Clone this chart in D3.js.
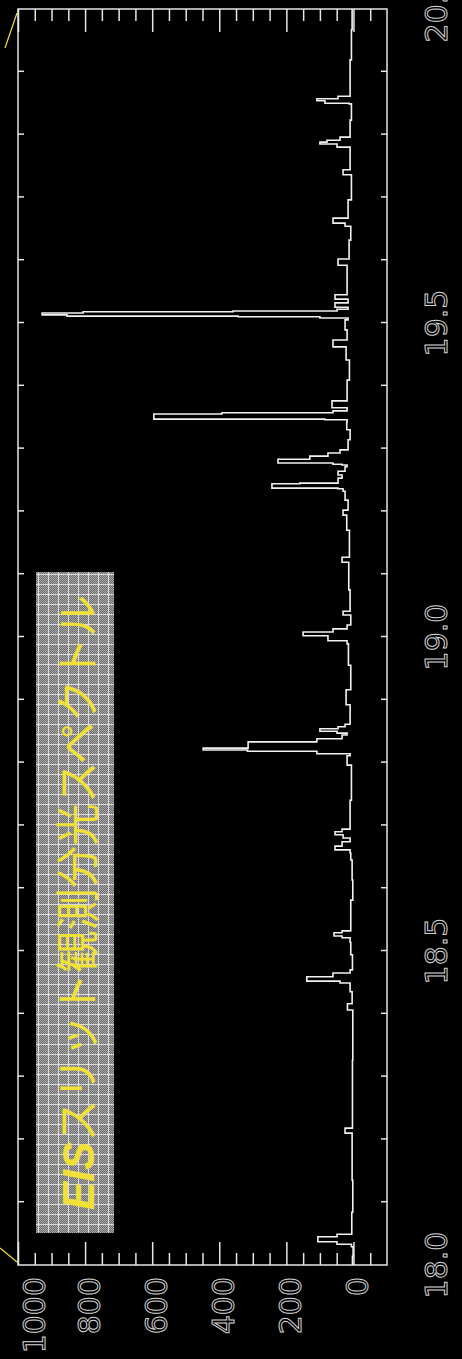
<!DOCTYPE html>
<html>
<head>
<meta charset="utf-8">
<script src="https://cdn.jsdelivr.net/npm/d3@7"></script>
<style>
  html, body { margin: 0; padding: 0; background: #000; overflow: hidden; }
  svg { display: block; }
</style>
</head>
<body>
<svg id="chart" width="462" height="1359"></svg>
<script>
// EIS slit spectrum (wavelength in nm, intensity in counts)
// values hold until the next wavelength (stepped trace)
const wavelength = [
  18.000, 18.014, 18.029, 18.033, 18.037, 18.045, 18.049, 18.084, 18.135, 18.210,
  18.218, 18.326, 18.406, 18.416, 18.435, 18.449, 18.452, 18.459, 18.465, 18.470,
  18.494, 18.514, 18.521, 18.524, 18.529, 18.532, 18.581, 18.613, 18.645, 18.656,
  18.661, 18.667, 18.674, 18.680, 18.685, 18.690, 18.694, 18.740, 18.796, 18.811,
  18.814, 18.818, 18.820, 18.823, 18.833, 18.838, 18.844, 18.847, 18.850, 18.854,
  18.857, 18.861, 18.892, 18.916, 18.955, 18.989, 18.994, 19.002, 19.008, 19.013,
  19.019, 19.035, 19.041, 19.075, 19.119, 19.127, 19.170, 19.194, 19.202, 19.218,
  19.232, 19.236, 19.237, 19.244, 19.245, 19.253, 19.258, 19.264, 19.271, 19.274,
  19.275, 19.277, 19.283, 19.288, 19.293, 19.298, 19.314, 19.330, 19.342, 19.346,
  19.347, 19.355, 19.357, 19.360, 19.365, 19.376, 19.409, 19.441, 19.462, 19.473,
  19.489, 19.505, 19.508, 19.510, 19.511, 19.513, 19.516, 19.518, 19.519, 19.522,
  19.525, 19.532, 19.538, 19.545, 19.592, 19.602, 19.632, 19.654, 19.659, 19.667,
  19.696, 19.736, 19.744, 19.780, 19.785, 19.788, 19.791, 19.796, 19.823, 19.849,
  19.850, 19.854, 19.857, 19.861, 19.919, 19.967, 20.000
];
const intensity = [
  3, 1, 6, 49, 106, 49, 5, 2, 4, 25,
  3, 2, 18, 4, 10, 40, 139, 61, 10, 3,
  8, 10, 34, 58, 34, 8, 2, 4, 8, 10,
  55, 34, 10, 31, 55, 34, 10, 6, 19, 10,
  109, 316, 448, 314, 109, 34, 19, 49, 100, 46,
  25, 10, 22, 8, 15, 19, 76, 150, 61, 19,
  8, 31, 10, 14, 34, 12, 20, 31, 16, 25,
  31, 46, 243, 160, 46, 34, 46, 25, 19, 34,
  61, 225, 130, 76, 40, 16, 10, 20, 19, 85,
  595, 392, 61, 19, 64, 19, 12, 22, 61, 19,
  25, 16, 100, 344, 854, 928, 806, 359, 49, 16,
  55, 16, 55, 19, 46, 13, 8, 25, 61, 16,
  6, 31, 10, 49, 100, 79, 40, 10, 6, 13,
  85, 109, 46, 10, 6, 4, 4
];

// axis ticks
const intensityMajor = [0, 200, 400, 600, 800, 1000];
const intensityMinor = [-50, 50, 100, 150, 250, 300, 350, 450, 500, 550, 650, 700, 750, 850, 900, 950];
const wavelengthTicks = [18.1, 18.2, 18.3, 18.4, 18.5, 18.6, 18.7, 18.8, 18.9, 19.0,
                         19.1, 19.2, 19.3, 19.4, 19.5, 19.6, 19.7, 19.8, 19.9];
const wavelengthLabels = [18.0, 18.5, 19.0, 19.5, 20.0];

const titleLatin = "EIS";
const titleJa = "スリット観測分光スペクトル";

const svg = d3.select("#chart");
const ink = "#e6e6e6";
const yellow = "#f0e038";

// the plot is drawn unrotated, then turned a quarter turn
const W = 1256, H = 369;
const x = d3.scaleLinear().domain([18, 20]).range([0, W]);
const y = d3.scaleLinear().domain([-100, 1000]).range([H, 0]);

// patterns for the title box (dithered grey with a light grid)
const defs = svg.append("defs");
const dots = defs.append("pattern")
  .attr("id", "dots").attr("patternUnits", "userSpaceOnUse")
  .attr("width", 2).attr("height", 2);
dots.append("rect").attr("width", 2).attr("height", 2).attr("fill", "#6c6c6c");
dots.append("rect").attr("width", 1).attr("height", 1).attr("fill", "#a8a8a8");
dots.append("rect").attr("x", 1).attr("y", 1).attr("width", 1).attr("height", 1).attr("fill", "#a8a8a8");
const grid = defs.append("pattern")
  .attr("id", "grid").attr("patternUnits", "userSpaceOnUse")
  .attr("width", 10).attr("height", 10);
grid.append("rect").attr("width", 10).attr("height", 10).attr("fill", "url(#dots)");
grid.append("path").attr("d", "M0,0.5H10M0.5,0V10")
  .attr("stroke", "#dcdcdc").attr("stroke-width", 1);

const g = svg.append("g").attr("transform", "translate(18,1265) rotate(-90)");

// title box
g.append("rect")
  .attr("x", 32).attr("y", 18).attr("width", 661).attr("height", 78)
  .attr("fill", "url(#grid)");

const title = g.append("text")
  .attr("x", 55).attr("y", 76)
  .attr("fill", yellow)
  .attr("font-size", 44)
  .attr("textLength", 615)
  .attr("lengthAdjust", "spacingAndGlyphs");
title.append("tspan")
  .attr("font-family", "'Liberation Sans', Arial, sans-serif")
  .attr("font-weight", "bold").attr("font-style", "italic")
  .text(titleLatin);
title.append("tspan")
  .attr("font-family", "'Noto Sans CJK JP', sans-serif")
  .text(titleJa);

// frame
g.append("rect")
  .attr("x", 0).attr("y", 0).attr("width", W).attr("height", H)
  .attr("fill", "none").attr("stroke", ink).attr("stroke-width", 1.5);

function tickStyle(sel) {
  sel.select(".domain").remove();
  sel.selectAll("text").remove();
  sel.selectAll("line").attr("stroke", ink).attr("stroke-width", 1.5);
}

// intensity ticks on both wavelength ends, pointing inwards
g.append("g").call(d3.axisRight(y).tickValues(intensityMajor).tickSize(23)).call(tickStyle);
g.append("g").call(d3.axisRight(y).tickValues(intensityMinor).tickSize(12)).call(tickStyle);
g.append("g").attr("transform", `translate(${W},0)`)
  .call(d3.axisLeft(y).tickValues(intensityMajor).tickSize(23)).call(tickStyle);
g.append("g").attr("transform", `translate(${W},0)`)
  .call(d3.axisLeft(y).tickValues(intensityMinor).tickSize(12)).call(tickStyle);

// wavelength ticks on both long edges
g.append("g").attr("transform", `translate(0,${H})`)
  .call(d3.axisTop(x).tickValues(wavelengthTicks).tickSize(6)).call(tickStyle);
g.append("g")
  .call(d3.axisBottom(x).tickValues(wavelengthTicks).tickSize(6)).call(tickStyle);

// hollow-looking tick labels
const labelFont = sel => sel
  .attr("font-family", "'DejaVu Sans', sans-serif")
  .attr("font-size", 30)
  .attr("fill", "none")
  .attr("stroke", "#d4d4d4")
  .attr("stroke-width", 1);

g.selectAll("text.wl")
  .data(wavelengthLabels)
  .join("text")
    .attr("class", "wl")
    .attr("x", d => x(d))
    .attr("y", H + 60)
    .attr("text-anchor", "middle")
    .text(d => d.toFixed(1))
    .call(labelFont);

g.selectAll("text.int")
  .data(intensityMajor)
  .join("text")
    .attr("class", "int")
    .attr("x", -12)
    .attr("y", d => Math.max(y(d) + 15, 27))
    .attr("text-anchor", "end")
    .text(d => d)
    .call(labelFont);

// spectrum trace
const line = d3.line()
  .x((d, i) => x(wavelength[i]))
  .y(d => y(d))
  .curve(d3.curveStepAfter);

g.append("path")
  .datum(intensity)
  .attr("d", line)
  .attr("fill", "none")
  .attr("stroke", "#f2f2f2")
  .attr("stroke-width", 1.6);

// yellow zoom guides leaving the frame corners
svg.append("line")
  .attr("x1", 17).attr("y1", 13).attr("x2", 5).attr("y2", 48)
  .attr("stroke", yellow).attr("stroke-width", 1.2);
svg.append("line")
  .attr("x1", 17).attr("y1", 1262).attr("x2", 0).attr("y2", 1248)
  .attr("stroke", yellow).attr("stroke-width", 1.2);
</script>
</body>
</html>
